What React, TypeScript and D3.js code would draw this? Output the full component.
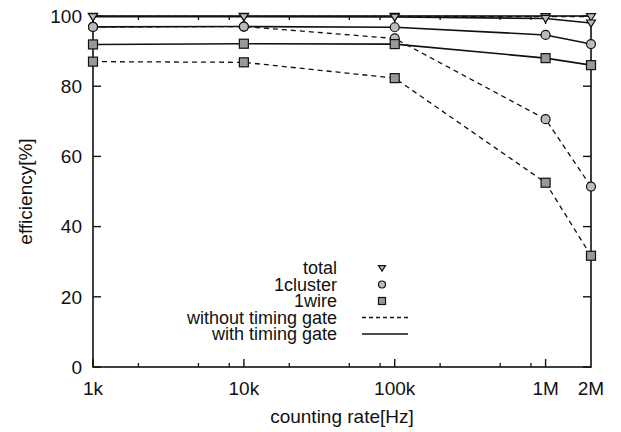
import * as d3 from "d3";
import React, { useRef, useEffect } from "react";

const rates = [1e3, 1e4, 1e5, 1e6, 2e6];
const totalWith = [99.8, 99.8, 99.7, 99.3, 98.0];
const totalWithout = [99.9, 99.9, 99.9, 99.8, 99.8];
const clusterWith = [96.9, 97.0, 96.8, 94.6, 92.0];
const clusterWithout = [96.9, 97.0, 93.6, 70.6, 51.4];
const wireWith = [91.9, 92.1, 92.0, 88.0, 86.0];
const wireWithout = [87.0, 86.8, 82.3, 52.5, 31.7];

const xTickVals = [1e3, 1e4, 1e5, 1e6, 2e6];
const xTickLabels = ["1k", "10k", "100k", "1M", "2M"];
const xMinor = [2e3, 5e3, 8e3, 2e4, 5e4, 8e4, 2e5, 5e5, 8e5];
const yTicks = [0, 20, 40, 60, 80, 100];

const W = 621;
const H = 432;
const FONT = "'Liberation Sans', Arial, sans-serif";

const App = () => {
  const svgRef = useRef(null);

  useEffect(() => {
    const svg = d3.select(svgRef.current);
    svg.selectAll("*").remove();

    const x = d3.scaleLog().domain([1e3, 2e6]).range([93, 591]);
    const y = d3.scaleLinear().domain([0, 100]).range([367, 16]);
    const [x0, x1] = x.range();
    const [y0, y1] = y.range();

    const g = svg.append("g");

    // frame
    g.append("rect")
      .attr("x", x0).attr("y", y1)
      .attr("width", x1 - x0).attr("height", y0 - y1)
      .attr("fill", "none").attr("stroke", "#111").attr("stroke-width", 1.6);

    // y ticks on both sides, pointing inward
    yTicks.forEach((t) => {
      g.append("line").attr("x1", x0).attr("x2", x0 + 8).attr("y1", y(t)).attr("y2", y(t))
        .attr("stroke", "#111").attr("stroke-width", 1.4);
      g.append("line").attr("x1", x1).attr("x2", x1 - 8).attr("y1", y(t)).attr("y2", y(t))
        .attr("stroke", "#111").attr("stroke-width", 1.4);
      g.append("text").attr("x", x0 - 11).attr("y", y(t)).attr("dy", "0.36em")
        .attr("text-anchor", "end").attr("font-family", FONT).attr("font-size", 19)
        .attr("fill", "#111").text(t);
    });

    // x ticks
    xTickVals.forEach((t, i) => {
      if (i < xTickVals.length - 1) {
        g.append("line").attr("x1", x(t)).attr("x2", x(t)).attr("y1", y0).attr("y2", y0 - 8)
          .attr("stroke", "#111").attr("stroke-width", 1.4);
        g.append("line").attr("x1", x(t)).attr("x2", x(t)).attr("y1", y1).attr("y2", y1 + 8)
          .attr("stroke", "#111").attr("stroke-width", 1.4);
      }
      g.append("text").attr("x", x(t)).attr("y", 395)
        .attr("text-anchor", "middle").attr("font-family", FONT).attr("font-size", 19)
        .attr("fill", "#111").text(xTickLabels[i]);
    });
    xMinor.forEach((t) => {
      g.append("line").attr("x1", x(t)).attr("x2", x(t)).attr("y1", y0).attr("y2", y0 - 4)
        .attr("stroke", "#111").attr("stroke-width", 1.3);
      g.append("line").attr("x1", x(t)).attr("x2", x(t)).attr("y1", y1).attr("y2", y1 + 4)
        .attr("stroke", "#111").attr("stroke-width", 1.3);
    });

    // axis titles
    g.append("text").attr("x", (x0 + x1) / 2).attr("y", 423)
      .attr("text-anchor", "middle").attr("font-family", FONT).attr("font-size", 19)
      .attr("fill", "#111").text("counting rate[Hz]");
    g.append("text").attr("transform", `translate(32,${(y0 + y1) / 2}) rotate(-90)`)
      .attr("text-anchor", "middle").attr("font-family", FONT).attr("font-size", 19)
      .attr("fill", "#111").text("efficiency[%]");

    const line = d3.line().x((d) => x(d[0])).y((d) => y(d[1]));
    const series = [
      { vals: totalWithout, dash: "5,4", sym: "tri" },
      { vals: clusterWithout, dash: "5,4", sym: "circ" },
      { vals: wireWithout, dash: "5,4", sym: "sq" },
      { vals: totalWith, dash: null, sym: "tri" },
      { vals: clusterWith, dash: null, sym: "circ" },
      { vals: wireWith, dash: null, sym: "sq" },
    ];

    const drawSym = (sel, sym, cx, cy, s) => {
      if (sym === "tri") {
        sel.append("path")
          .attr("d", `M${-s / 2},${-s / 3}L${s / 2},${-s / 3}L0,${s / 2.2}Z`)
          .attr("transform", `translate(${cx},${cy})`)
          .attr("fill", "#bbb").attr("stroke", "#111").attr("stroke-width", 1.2);
      } else if (sym === "circ") {
        sel.append("circle").attr("cx", cx).attr("cy", cy).attr("r", s / 2)
          .attr("fill", "#bbb").attr("stroke", "#111").attr("stroke-width", 1.2);
      } else {
        sel.append("rect").attr("x", cx - s / 2).attr("y", cy - s / 2)
          .attr("width", s).attr("height", s)
          .attr("fill", "#999").attr("stroke", "#111").attr("stroke-width", 1.2);
      }
    };

    series.forEach((s) => {
      const pts = rates.map((r, i) => [r, s.vals[i]]);
      g.append("path").attr("d", line(pts)).attr("fill", "none")
        .attr("stroke", "#111").attr("stroke-width", s.dash ? 1.3 : 1.6)
        .attr("stroke-dasharray", s.dash);
      pts.forEach((p) => drawSym(g, s.sym, x(p[0]), y(p[1]), 9));
    });

    // legend
    const legend = [
      { label: "total", sym: "tri" },
      { label: "1cluster", sym: "circ" },
      { label: "1wire", sym: "sq" },
      { label: "without timing gate", dash: "4,3" },
      { label: "with timing gate", dash: "none" },
    ];
    legend.forEach((l, i) => {
      const ly = 268 + i * 16.5;
      g.append("text").attr("x", 337).attr("y", ly).attr("dy", "0.36em")
        .attr("text-anchor", "end").attr("font-family", FONT).attr("font-size", 18)
        .attr("fill", "#111").text(l.label);
      if (l.sym) {
        drawSym(g, l.sym, 382, ly, 7);
      } else {
        g.append("line").attr("x1", 362).attr("x2", 408).attr("y1", ly).attr("y2", ly)
          .attr("stroke", "#111").attr("stroke-width", 1.3)
          .attr("stroke-dasharray", l.dash === "none" ? null : l.dash);
      }
    });
  }, []);

  return (
    <svg ref={svgRef} width={W} height={H}
      style={{ position: "absolute", left: 0, top: 0, background: "#fff" }} />
  );
};

export default App;
